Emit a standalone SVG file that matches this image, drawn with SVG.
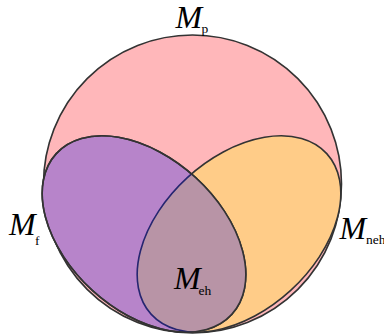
<svg xmlns="http://www.w3.org/2000/svg" width="384" height="335" viewBox="0 0 384 335">
  <style>
    .ln { stroke: #333333; stroke-width: 1.6; }
    .m { font-family: "Liberation Serif", "Times New Roman", serif; font-style: italic; font-size: 32px; fill: #000; }
    .s { font-family: "Liberation Serif", "Times New Roman", serif; font-style: normal; font-size: 13.5px; fill: #000; }
  </style>
  <defs>
    <ellipse id="ef" cx="144" cy="234" rx="119" ry="76.5" transform="rotate(42.5 144 234)"/>
    <ellipse id="en" cx="239" cy="234" rx="119" ry="76.5" transform="rotate(-42.5 239 234)"/>
    <clipPath id="clipF">
      <use href="#ef"/>
    </clipPath>
  </defs>
  <g id="Mp">
    <circle cx="192.5" cy="184" r="149" fill="#FFB7BA" class="ln"/>
  </g>
  <g id="Mneh">
    <use href="#en" fill="#FFCC88" class="ln"/>
  </g>
  <g id="Mf">
    <use href="#ef" fill="#B784CA" class="ln"/>
  </g>
  <g id="Meh">
    <use href="#en" fill="#B894A6" clip-path="url(#clipF)"/>
    <use href="#en" fill="none" stroke="#262670" stroke-width="1.6" clip-path="url(#clipF)"/>
    <use href="#ef" fill="none" class="ln"/>
  </g>
  <g id="labels">
    <text class="m" x="175.5" y="28">M<tspan class="s" x="201.5" y="32.5">p</tspan></text>
    <text class="m" x="9" y="235">M<tspan class="s" x="35" y="245">f</tspan></text>
    <text class="m" x="339.5" y="238.5">M<tspan class="s" x="366" y="243.5">neh</tspan></text>
    <text class="m" x="174" y="289">M<tspan class="s" x="198.5" y="295">eh</tspan></text>
  </g>
</svg>
